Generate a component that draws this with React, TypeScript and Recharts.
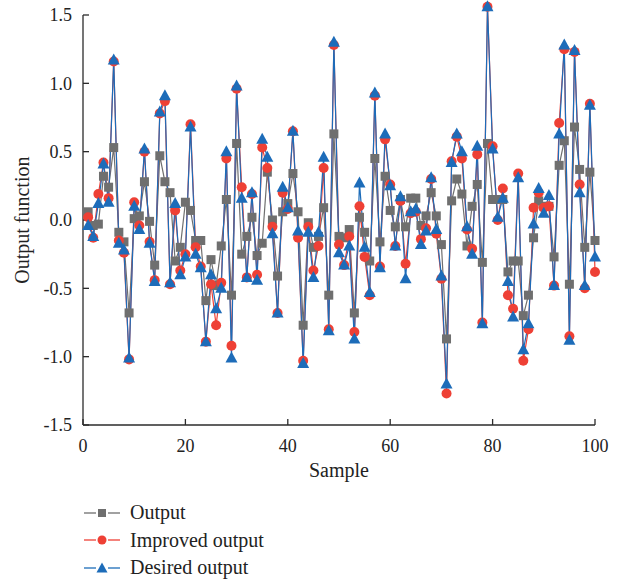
import React from "react";
import { LineChart, Line, XAxis, YAxis, ReferenceLine } from "recharts";

const samples = Array.from({ length: 100 }, (_, i) => i + 1);

const outputValues = [
  0.06, -0.04, -0.03, 0.32, 0.24, 0.53, -0.09, -0.16, -0.68, 0.01,
  0.03, 0.28, -0.01, -0.33, 0.47, 0.28, 0.2, -0.3, -0.2, 0.13,
  0.07, -0.15, -0.15, -0.59, -0.29, -0.48, -0.19, 0.15, -0.55, 0.56,
  -0.25, -0.12, 0.02, -0.26, -0.17, 0.35, 0.0, -0.41, 0.06, 0.12,
  0.34, 0.06, -0.77, -0.02, -0.2, -0.12, 0.09, -0.55, 0.63, -0.12,
  -0.13, -0.07, -0.68, 0.02, -0.09, -0.3, 0.45, -0.16, 0.32, 0.07,
  -0.05, 0.15, -0.05, 0.16, 0.16, -0.04, 0.03, 0.2, 0.03, -0.18,
  -0.87, 0.14, 0.3, 0.19, -0.19, 0.1, 0.26, -0.31, 0.56, 0.15,
  0.15, 0.15, -0.38, -0.3, -0.3, -0.7, -0.55, -0.13, 0.14, 0.1,
  0.1, -0.27, 0.4, 0.58, -0.47, 0.68, 0.37, -0.2, 0.35, -0.15,
];

const improvedValues = [
  0.02, -0.13, 0.19, 0.42, 0.16, 1.16, -0.15, -0.24, -1.02, 0.13,
  -0.04, 0.5, -0.16, -0.44, 0.78, 0.87, -0.47, 0.07, -0.37, -0.25,
  0.7, -0.2, -0.34, -0.89, -0.47, -0.77, -0.46, 0.45, -0.92, 0.96,
  0.24, -0.42, 0.19, -0.4, 0.53, 0.38, -0.05, -0.68, 0.2, 0.08,
  0.65, -0.13, -1.03, -0.05, -0.37, -0.19, 0.38, -0.8, 1.28, -0.18,
  -0.33, -0.12, -0.82, 0.1, -0.27, -0.55, 0.91, -0.34, 0.59, 0.26,
  -0.19, 0.14, -0.32, 0.05, 0.06, -0.14, -0.06, 0.3, -0.1, -0.43,
  -1.27, 0.43, 0.61, 0.45, -0.07, -0.21, 0.48, -0.75, 1.56, 0.54,
  0.0, 0.23, -0.55, -0.65, 0.34, -1.03, -0.8, 0.09, 0.2, 0.09,
  0.1, -0.48, 0.71, 1.25, -0.85, 1.23, 0.26, -0.5, 0.85, -0.38,
];

const desiredValues = [
  -0.04, -0.12, 0.12, 0.41, 0.13, 1.17, -0.17, -0.22, -1.01, 0.1,
  -0.07, 0.52, -0.17, -0.45, 0.79, 0.91, -0.46, 0.12, -0.4, -0.27,
  0.68, -0.25, -0.35, -0.89, -0.4, -0.65, -0.5, 0.5, -1.01, 0.98,
  0.16, -0.42, 0.2, -0.44, 0.59, 0.46, -0.1, -0.68, 0.24, 0.09,
  0.65, -0.08, -1.05, -0.09, -0.42, -0.09, 0.46, -0.81, 1.3, -0.24,
  -0.33, -0.19, -0.87, 0.27, -0.2, -0.53, 0.93, -0.35, 0.63, 0.25,
  -0.19, 0.17, -0.43, 0.06, 0.08, -0.18, -0.08, 0.31, -0.07, -0.41,
  -1.2, 0.42, 0.63, 0.5, -0.05, -0.25, 0.54, -0.76, 1.56, 0.52,
  0.02, 0.16, -0.45, -0.71, 0.31, -0.95, -0.76, -0.03, 0.23, 0.05,
  0.18, -0.48, 0.63, 1.28, -0.88, 1.24, 0.2, -0.48, 0.84, -0.27,
];

const xTicks = [0, 20, 40, 60, 80, 100];
const yTicks = [-1.5, -1, -0.5, 0, 0.5, 1, 1.5];

const GREY = "#6f6f6f";
const RED = "#ee4035";
const BLUE = "#1d6cb9";
const AXIS = "#2b2b2b";
const FONT = "'Liberation Serif', 'Times New Roman', serif";

const data = samples.map((s, i) => ({
  sample: s,
  output: outputValues[i],
  improved: improvedValues[i],
  desired: desiredValues[i],
}));

const squareDot = (p: any) => {
  if (p.cx == null || p.cy == null) return <g key={`sq-${p.index}`} />;
  return <rect key={`sq-${p.index}`} x={p.cx - 4.5} y={p.cy - 4.5} width={9} height={9} fill={GREY} />;
};

const circleDot = (p: any) => {
  if (p.cx == null || p.cy == null) return <g key={`ci-${p.index}`} />;
  return <circle key={`ci-${p.index}`} cx={p.cx} cy={p.cy} r={5} fill={RED} />;
};

const triangleDot = (p: any) => {
  if (p.cx == null || p.cy == null) return <g key={`tr-${p.index}`} />;
  const { cx, cy } = p;
  return (
    <polygon
      key={`tr-${p.index}`}
      points={`${cx},${cy - 6.5} ${cx - 6},${cy + 4.5} ${cx + 6},${cy + 4.5}`}
      fill={BLUE}
    />
  );
};

const legendItems = [
  { label: "Output", color: GREY, shape: "square" },
  { label: "Improved output", color: RED, shape: "circle" },
  { label: "Desired output", color: BLUE, shape: "triangle" },
];

const LegendIcon = ({ color, shape }: { color: string; shape: string }) => (
  <svg width={38} height={14} style={{ marginRight: 9 }}>
    <line x1={1} y1={7} x2={13} y2={7} stroke={color} strokeWidth={1.3} />
    <line x1={25} y1={7} x2={37} y2={7} stroke={color} strokeWidth={1.3} />
    {shape === "square" && <rect x={15} y={3} width={8} height={8} fill={color} />}
    {shape === "circle" && <circle cx={19} cy={7} r={4.5} fill={color} />}
    {shape === "triangle" && <polygon points="19,1.5 13.5,11.5 24.5,11.5" fill={color} />}
  </svg>
);

export default function App() {
  return (
    <div style={{ position: "absolute", left: 0, top: 0, width: 622, height: 582, background: "#fff" }}>
      <LineChart
        width={622}
        height={582}
        data={data}
        margin={{ top: 1.33, right: 27, bottom: 97, left: 0 }}
      >
        <XAxis
          dataKey="sample"
          type="number"
          domain={[0, 100]}
          ticks={xTicks}
          height={60}
          stroke={AXIS}
          strokeWidth={1.3}
          tickSize={-6}
          tickMargin={20}
          tick={{ fill: "#222", fontSize: 18, fontFamily: FONT }}
          label={{
            content: (props: any) => {
              const vb = props.viewBox;
              return (
                <text
                  x={vb.x + vb.width / 2}
                  y={vb.y + 52}
                  textAnchor="middle"
                  fill="#222"
                  fontSize={20}
                  fontFamily={FONT}
                >
                  Sample
                </text>
              );
            },
          }}
        />
        <YAxis
          type="number"
          domain={[-1.5, 1.6]}
          ticks={yTicks}
          width={83}
          axisLine={false}
          stroke={AXIS}
          strokeWidth={1.3}
          tickSize={-6}
          tickMargin={17}
          tickFormatter={(v: number) => v.toFixed(1)}
          tick={{ fill: "#222", fontSize: 18, fontFamily: FONT }}
          label={{
            content: (props: any) => {
              const vb = props.viewBox;
              const cx = vb.x + 22;
              const cy = vb.y + vb.height / 2 + 7;
              return (
                <text
                  x={cx}
                  y={cy}
                  transform={`rotate(-90 ${cx} ${cy})`}
                  textAnchor="middle"
                  dominantBaseline="central"
                  fill="#222"
                  fontSize={20}
                  fontFamily={FONT}
                >
                  Output function
                </text>
              );
            },
          }}
        />
        <ReferenceLine
          segment={[
            { x: 0, y: -1.5 },
            { x: 0, y: 1.5 },
          ]}
          stroke={AXIS}
          strokeWidth={1.3}
        />
        <Line
          dataKey="output"
          stroke={GREY}
          strokeWidth={1.2}
          dot={squareDot}
          activeDot={false}
          isAnimationActive={false}
        />
        <Line
          dataKey="improved"
          stroke={RED}
          strokeWidth={1.2}
          dot={circleDot}
          activeDot={false}
          isAnimationActive={false}
        />
        <Line
          dataKey="desired"
          stroke={BLUE}
          strokeWidth={1.2}
          dot={triangleDot}
          activeDot={false}
          isAnimationActive={false}
        />
      </LineChart>
      <div style={{ position: "absolute", left: 83, top: 499, fontFamily: FONT, fontSize: 20, color: "#222" }}>
        {legendItems.map((it) => (
          <div key={it.label} style={{ display: "flex", alignItems: "center", height: 27.5 }}>
            <LegendIcon color={it.color} shape={it.shape} />
            <span>{it.label}</span>
          </div>
        ))}
      </div>
    </div>
  );
}
